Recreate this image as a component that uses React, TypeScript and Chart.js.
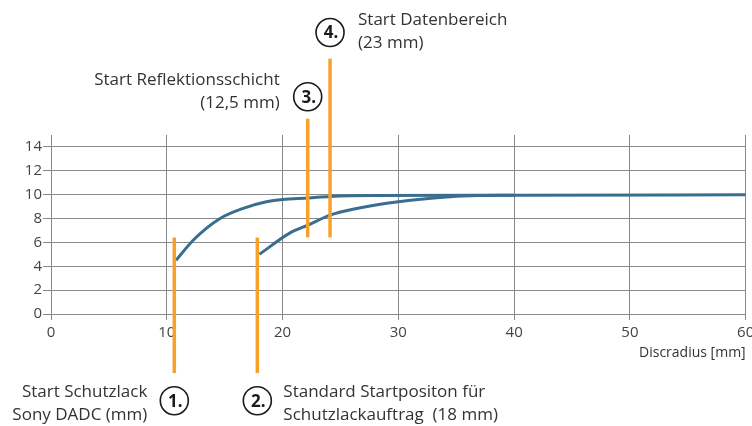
import React, { useEffect, useRef } from "react";
import { Chart, registerables } from "chart.js";

Chart.register(...registerables);

// Curve 1 (from Start Schutzlack)
const curve1X = [10.8, 12.3, 14.6, 16.6, 18.6, 20, 22.2, 24.1, 28, 40, 60];
const curve1Y = [4.5, 6.2, 8.0, 8.85, 9.4, 9.6, 9.72, 9.85, 9.93, 9.95, 10.0];

// Curve 2 (from standard start position)
const curve2X = [18.0, 20.65, 22.2, 24.1, 26.4, 30, 34.5, 37, 40];
const curve2Y = [5.0, 6.8, 7.45, 8.28, 8.84, 9.4, 9.82, 9.92, 9.95];

const yTicks = [0, 2, 4, 6, 8, 10, 12, 14];
const xTicks = [0, 10, 20, 30, 40, 50, 60];
const xAxisLabel = "Discradius [mm]";

// Marker lines
const markerX = [10.65, 17.82, 22.17, 24.1];
const markerTop = [6.42, 6.42, 16.37, 21.4];
const markerBottom = [-4.94, -4.94, 6.42, 6.42];
const markerNumbers = ["1.", "2.", "3.", "4."];
const markerLabels = [
  ["Start Schutzlack", "Sony DADC (mm)"],
  ["Standard Startpositon für", "Schutzlackauftrag  (18 mm)"],
  ["Start Reflektionsschicht", "(12,5 mm)"],
  ["Start Datenbereich", "(23 mm)"],
];

const FONT = '"Open Sans", "Noto Sans", sans-serif';
const BLUE = "#3a6e90";
const ORANGE = "#f7a12b";
const TEXT = "#333333";
const GRID = "#8a8a8a";

// layout of the callouts (pixel styling)
const calloutStyle = [
  { circleY: 400.7, side: "left", dx: 27, lines: [391.7, 415] },
  { circleY: 400.7, side: "right", dx: 26, lines: [391.7, 415] },
  { circleY: 96.7, side: "left", dx: 28, lines: [80, 103] },
  { circleY: 32.5, side: "right", dx: 28, lines: [20, 43] },
];

const annotationPlugin = {
  id: "annotations",
  afterDatasetsDraw(chart: any) {
    const ctx = chart.ctx;
    const xs = chart.scales.x;
    const ys = chart.scales.y;
    ctx.save();
    markerX.forEach((mx, i) => {
      const px = xs.getPixelForValue(mx);
      ctx.strokeStyle = ORANGE;
      ctx.lineWidth = 3.5;
      ctx.beginPath();
      ctx.moveTo(px, ys.getPixelForValue(markerTop[i]));
      ctx.lineTo(px, ys.getPixelForValue(markerBottom[i]));
      ctx.stroke();
    });
    ctx.restore();
  },
  afterDraw(chart: any) {
    const ctx = chart.ctx;
    const xs = chart.scales.x;
    ctx.save();
    markerX.forEach((mx, i) => {
      const px = xs.getPixelForValue(mx);
      const st = calloutStyle[i];
      // circle
      ctx.beginPath();
      ctx.arc(px, st.circleY, 14, 0, Math.PI * 2);
      ctx.fillStyle = "#ffffff";
      ctx.fill();
      ctx.strokeStyle = "#1a1a1a";
      ctx.lineWidth = 1.6;
      ctx.stroke();
      ctx.fillStyle = "#1a1a1a";
      ctx.font = `bold 17px ${FONT}`;
      ctx.textAlign = "center";
      ctx.textBaseline = "middle";
      ctx.fillText(markerNumbers[i], px + 1, st.circleY + 1);
      // labels
      ctx.fillStyle = TEXT;
      ctx.font = `17px ${FONT}`;
      if (st.side === "left") {
        ctx.textAlign = "right";
        markerLabels[i].forEach((t, k) => ctx.fillText(t, px - st.dx, st.lines[k]));
      } else {
        ctx.textAlign = "left";
        markerLabels[i].forEach((t, k) => ctx.fillText(t, px + st.dx, st.lines[k]));
      }
    });
    // axis title
    ctx.fillStyle = TEXT;
    ctx.font = `14px ${FONT}`;
    ctx.textAlign = "right";
    ctx.textBaseline = "middle";
    ctx.fillText(xAxisLabel, chart.chartArea.right, 353);
    ctx.restore();
  },
};

export default function App() {
  const ref = useRef<HTMLCanvasElement>(null);
  useEffect(() => {
    if (!ref.current) return;
    const chart = new Chart(ref.current, {
      type: "line",
      data: {
        datasets: [
          {
            data: curve1X.map((x, i) => ({ x, y: curve1Y[i] })),
            borderColor: BLUE,
            borderWidth: 3,
            pointRadius: 0,
            cubicInterpolationMode: "monotone",
            fill: false,
          },
          {
            data: curve2X.map((x, i) => ({ x, y: curve2Y[i] })),
            borderColor: BLUE,
            borderWidth: 3,
            pointRadius: 0,
            cubicInterpolationMode: "monotone",
            fill: false,
          },
        ],
      },
      options: {
        animation: false,
        responsive: false,
        devicePixelRatio: 1,
        layout: { padding: { left: 0, right: 6.3, top: 135, bottom: 0 } },
        plugins: { legend: { display: false }, tooltip: { enabled: false } },
        scales: {
          x: {
            type: "linear",
            min: 0,
            max: 60,
            afterBuildTicks: (s: any) => {
              s.ticks = xTicks.map((v) => ({ value: v }));
            },
            afterFit: (s: any) => {
              s.height = 112;
              s.paddingRight = 0;
              s.paddingLeft = 0;
            },
            grid: { color: GRID, lineWidth: 1, tickLength: 6 },
            border: { color: GRID },
            ticks: {
              color: "#444",
              font: { family: FONT, size: 15 },
              padding: 4,
              maxRotation: 0,
            },
          },
          y: {
            type: "linear",
            min: 0,
            max: 15,
            afterBuildTicks: (s: any) => {
              s.ticks = yTicks.map((v) => ({ value: v }));
            },
            afterFit: (s: any) => {
              s.width = 51;
              s.paddingTop = 0;
              s.paddingBottom = 0;
            },
            grid: { color: GRID, lineWidth: 1, tickLength: 8 },
            border: { color: GRID },
            ticks: {
              color: "#444",
              font: { family: FONT, size: 15 },
              padding: 1,
            },
          },
        },
      },
      plugins: [annotationPlugin],
    } as any);
    return () => chart.destroy();
  }, []);
  return (
    <div style={{ position: "absolute", left: 0, top: 0, width: 752, height: 426 }}>
      <canvas ref={ref} width={752} height={426} style={{ display: "block" }} />
    </div>
  );
}
